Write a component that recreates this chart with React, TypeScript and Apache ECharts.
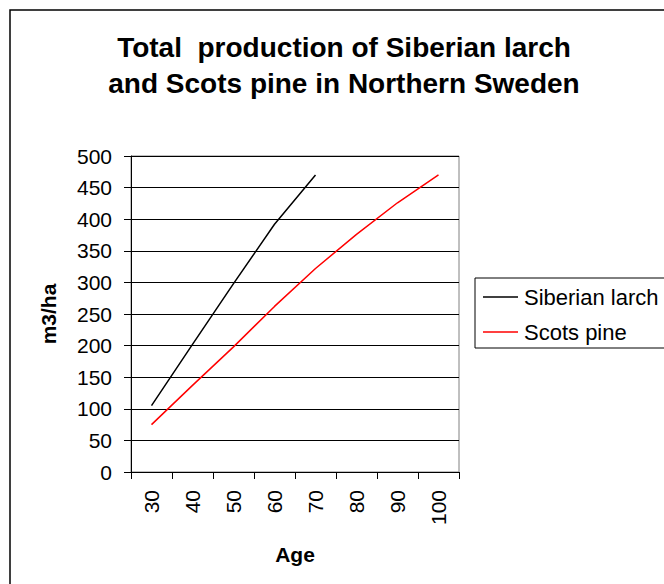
import React, { useEffect, useRef } from "react";
import * as echarts from "echarts";

const ages = ["30", "40", "50", "60", "70", "80", "90", "100"];
const siberianLarch = [105, 202, 298, 392, 470, null, null, null];
const scotsPine = [75, 137, 198, 262, 322, 376, 426, 470];
const titleLines = ["Total  production of Siberian larch", "and Scots pine in Northern Sweden"];

const FONT = "'Liberation Sans', Arial, sans-serif";

export default function App() {
  const ref = useRef<HTMLDivElement>(null);
  useEffect(() => {
    if (!ref.current) return;
    const chart = echarts.init(ref.current, null, { renderer: "svg" });
    chart.setOption({
      animation: false,
      backgroundColor: "#fff",
      textStyle: { fontFamily: FONT },
      graphic: [
        {
          type: "rect",
          shape: { x: 10, y: 10, width: 1000, height: 1000 },
          style: { fill: "none", stroke: "#000", lineWidth: 1.5 },
          silent: true,
        },
        {
          type: "text",
          x: 344,
          y: 47.5,
          style: {
            text: titleLines[0],
            font: `bold 28px ${FONT}`,
            fill: "#000",
            align: "center",
            verticalAlign: "middle",
          },
        },
        {
          type: "text",
          x: 344,
          y: 83.5,
          style: {
            text: titleLines[1],
            font: `bold 28px ${FONT}`,
            fill: "#000",
            align: "center",
            verticalAlign: "middle",
          },
        },
      ],
      legend: {
        orient: "vertical",
        left: 475,
        top: 278,
        padding: [8, 10, 5, 8],
        borderColor: "#000",
        borderWidth: 1,
        icon: "rect",
        itemWidth: 35,
        itemHeight: 1.5,
        itemGap: 13,
        textStyle: { fontSize: 22, lineHeight: 22, color: "#000", fontFamily: FONT, padding: [0, 0, 0, 1] },
        data: ["Siberian larch", "Scots pine"],
      },
      grid: {
        left: 131,
        right: 205,
        top: 156,
        bottom: 112,
        show: true,
        borderColor: "#808080",
        borderWidth: 1,
        backgroundColor: "#fff",
      },
      xAxis: {
        type: "category",
        data: ages,
        boundaryGap: true,
        name: "Age",
        nameLocation: "middle",
        nameGap: 72,
        nameTextStyle: { fontSize: 21, fontWeight: "bold", color: "#000", fontFamily: FONT },
        axisLine: { lineStyle: { color: "#000", width: 1 } },
        axisTick: { show: true, length: 7, lineStyle: { color: "#000" } },
        axisLabel: { rotate: 90, fontSize: 21, color: "#000", margin: 18, fontFamily: FONT },
        splitLine: { show: false },
      },
      yAxis: {
        type: "value",
        min: 0,
        max: 500,
        interval: 50,
        name: "m3/ha",
        nameLocation: "middle",
        nameGap: 72,
        nameTextStyle: { fontSize: 21, fontWeight: "bold", color: "#000", fontFamily: FONT },
        axisLine: { show: true, lineStyle: { color: "#000", width: 1 } },
        axisTick: { show: true, length: 7, lineStyle: { color: "#000" } },
        axisLabel: { fontSize: 21, color: "#000", margin: 19, fontFamily: FONT },
        splitLine: { show: true, lineStyle: { color: "#000", width: 1 } },
      },
      series: [
        {
          name: "Siberian larch",
          type: "line",
          data: siberianLarch,
          symbol: "none",
          color: "#000",
          lineStyle: { color: "#000", width: 1.5 },
          connectNulls: false,
        },
        {
          name: "Scots pine",
          type: "line",
          data: scotsPine,
          symbol: "none",
          color: "#ff0000",
          lineStyle: { color: "#ff0000", width: 1.5 },
        },
      ],
    });
    return () => chart.dispose();
  }, []);
  return (
    <div
      ref={ref}
      style={{ position: "fixed", left: 0, top: 0, width: 664, height: 584 }}
    />
  );
}
